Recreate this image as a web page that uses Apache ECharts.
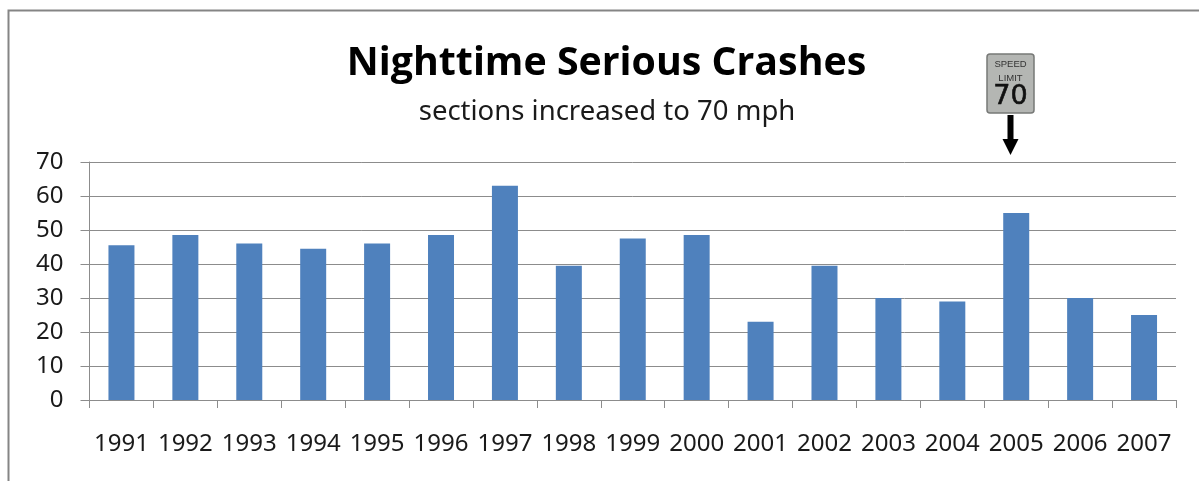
<!DOCTYPE html>
<html><head><meta charset="utf-8">
<style>html,body{margin:0;padding:0;background:#fff}#c{width:1199px;height:481px}</style>
<script src="https://cdn.jsdelivr.net/npm/echarts@6/dist/echarts.min.js"></script>
</head><body><div id="c"></div>
<script>
const years = ['1991','1992','1993','1994','1995','1996','1997','1998','1999','2000','2001','2002','2003','2004','2005','2006','2007'];
const crashes = [45.5,48.5,46,44.5,46,48.5,63,39.5,47.5,48.5,23,39.5,30,29,55,30,25];
const yTicks = [0,10,20,30,40,50,60,70];
const titleText = 'Nighttime Serious Crashes';
const subtitleText = 'sections increased to 70 mph';
const font = '"Noto Sans","Open Sans",sans-serif';
const chart = echarts.init(document.getElementById('c'), null, {renderer:'canvas'});
chart.setOption({
  animation:false,
  backgroundColor:'#fff',
  title:[
    {text:titleText,left:601.5,top:39,textAlign:'center',textStyle:{fontFamily:'"Open Sans",sans-serif',fontWeight:'bold',fontSize:39.3,color:'#000'}},
    {text:subtitleText,left:602,top:93,textAlign:'center',textStyle:{fontFamily:font,fontWeight:'normal',fontSize:27.5,color:'#1a1a1a'}}
  ],
  grid:{left:89.5,right:23,top:162,height:238,containLabel:false},
  xAxis:{type:'category',data:years,
    axisLine:{lineStyle:{color:'#8c8c8c',width:1}},
    axisTick:{show:true,alignWithLabel:false,length:8,lineStyle:{color:'#8c8c8c'}},
    axisLabel:{interval:0,margin:32,fontFamily:font,fontSize:24,color:'#1a1a1a'}},
  yAxis:{type:'value',min:yTicks[0],max:yTicks[yTicks.length-1],interval:10,
    axisLine:{show:true,lineStyle:{color:'#8c8c8c',width:1}},
    axisTick:{show:true,length:9,lineStyle:{color:'#8c8c8c'}},
    splitLine:{show:true,lineStyle:{color:'#8c8c8c',width:1}},
    axisLabel:{margin:26,fontFamily:font,fontSize:24,color:'#1a1a1a'}},
  series:[{type:'bar',data:crashes,barWidth:26,itemStyle:{color:'#4f81bd'},z:3}],
  graphic:[
    {type:'polyline',silent:true,shape:{points:[[8.5,481],[8.5,10.5],[1199,10.5]]},style:{fill:null,stroke:'#858585',lineWidth:2}},
    {type:'group',silent:true,children:[
      {type:'rect',shape:{x:987,y:54,width:47,height:59,r:3},style:{fill:'#b4b6b3',stroke:'#777977',lineWidth:1.5}},
      {type:'text',style:{x:1010.5,y:64.5,text:'SPEED',align:'center',verticalAlign:'middle',font:'9.5px "Liberation Sans",sans-serif',fill:'#333'}},
      {type:'text',style:{x:1010.5,y:78,text:'LIMIT',align:'center',verticalAlign:'middle',font:'9.5px "Liberation Sans",sans-serif',fill:'#333'}},
      {type:'text',style:{x:1010.5,y:97,text:'70',align:'center',verticalAlign:'middle',font:'27px "DejaVu Sans",sans-serif',fill:'#111',stroke:'#111',lineWidth:0.6}},
      {type:'polygon',shape:{points:[[1007.5,115],[1013.5,115],[1013.5,139],[1018.5,139],[1010.5,155],[1002.5,139],[1007.5,139]]},style:{fill:'#000'}}
    ]}
  ]
});
</script></body></html>
